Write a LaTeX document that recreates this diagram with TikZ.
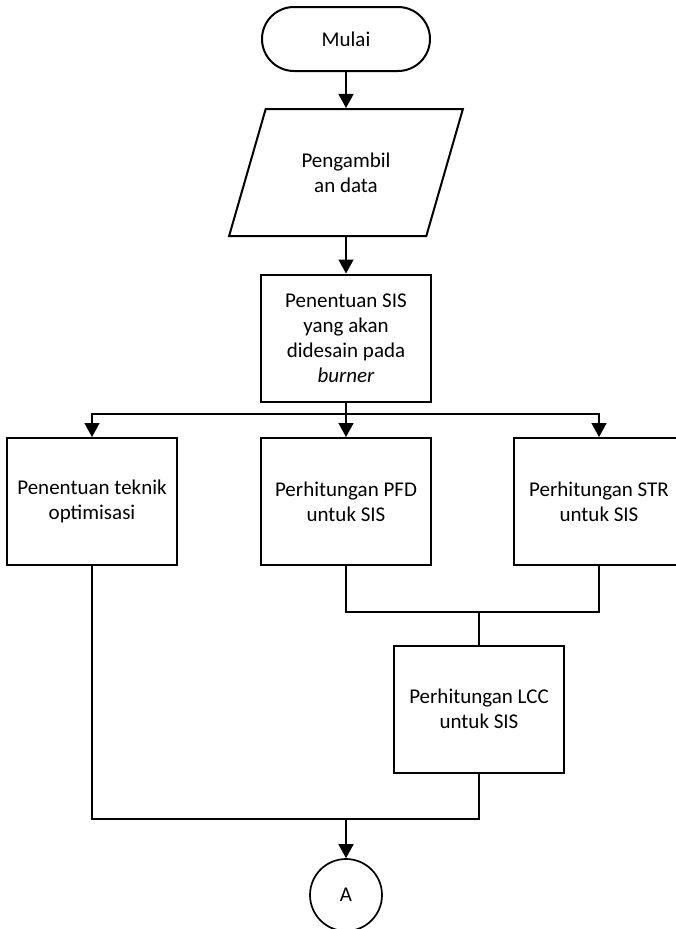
\documentclass[tikz,border=0pt]{standalone}
\usepackage{fontspec}
\setmainfont{Carlito}
\usetikzlibrary{shapes.geometric,arrows.meta}

\begin{document}
\begin{tikzpicture}[x=1pt, y=-1pt,
   every node/.style={font=\fontsize{21}{25}\selectfont, align=center, inner sep=0pt},
   proc/.style={draw, rectangle, line width=2pt, minimum width=170pt, minimum height=127pt},
   term/.style={draw, rectangle, rounded corners=32pt, line width=2pt,
                minimum width=168pt, minimum height=64pt},
   io/.style={draw, trapezium, trapezium left angle=63, trapezium right angle=117,
              trapezium stretches=true, line width=2pt, minimum width=234pt, minimum height=127pt},
   conn/.style={draw, circle, line width=1.7pt, minimum size=72pt},
   flow/.style={line width=1.6pt, -{Triangle[length=14pt,width=15pt]}},
   link/.style={line width=1.6pt}]

\useasboundingbox (0,0) rectangle (676,929);
\clip (0,0) rectangle (676,929);

\node[term] (mulai) at (346,39) {Mulai};
\node[io] (data) at (346,172.5) {Pengambil\\an data};
\node[proc] (sis) at (346,338) {Penentuan SIS\\yang akan\\didesain pada\\\textit{burner}};

\node[proc] (teknik) at (92,501.5) {Penentuan teknik\\optimisasi};
\node[proc] (pfd) at (346,501.5) {Perhitungan PFD\\untuk SIS};
\node[proc] (str) at (599,501.5) {Perhitungan STR\\untuk SIS};

\node[proc] (lcc) at (479,709) {Perhitungan LCC\\untuk SIS};
\node[conn] (a) at (346,895) {A};

% junctions
\coordinate (br) at (346,414);
\coordinate (j1) at (479,612);
\coordinate (j2) at (346,819);

\draw[flow] (mulai) -- (data);
\draw[flow] (data) -- (sis);
\draw[flow] (sis) -- (pfd);
\draw[flow] (br) -| (teknik.north);
\draw[flow] (br) -| (str.north);

\draw[link] (pfd.south) |- (j1) -| (str.south);
\draw[link] (j1) -- (lcc.north);
\draw[link] (teknik.south) |- (j2) -| (lcc.south);
\draw[flow] (j2) -- (a);

\end{tikzpicture}
\end{document}
